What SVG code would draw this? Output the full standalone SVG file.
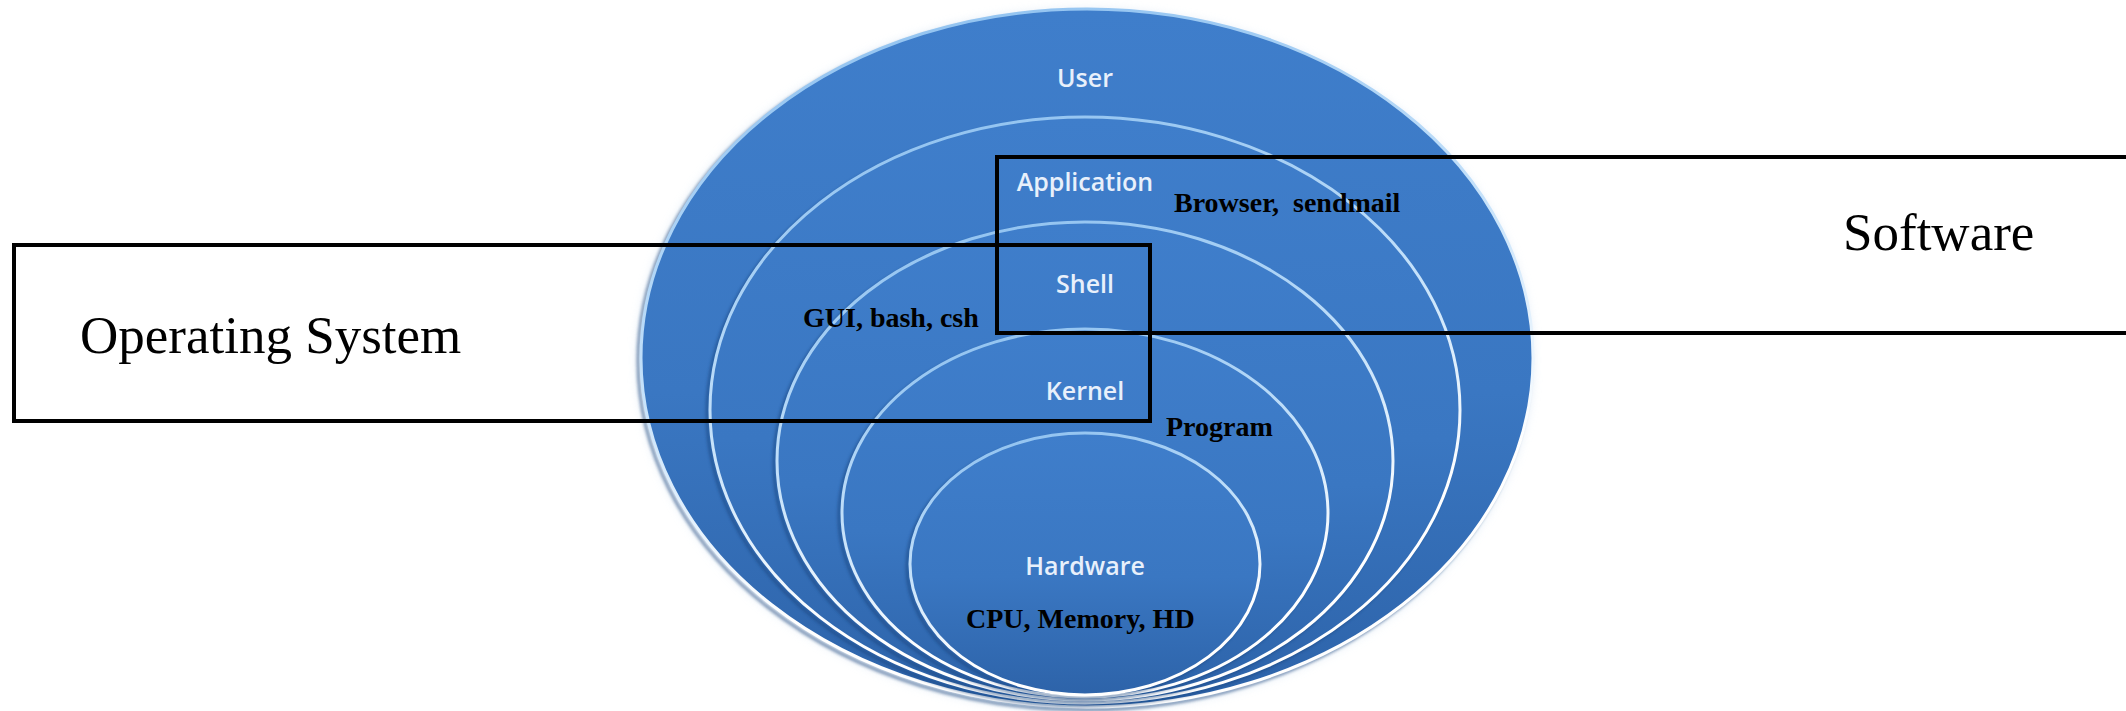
<svg xmlns="http://www.w3.org/2000/svg" width="2126" height="711" viewBox="0 0 2126 711">
  <defs>
    <linearGradient id="fillGrad" x1="0" y1="0" x2="0" y2="1">
      <stop offset="0" stop-color="#3f7ecb"/>
      <stop offset="0.55" stop-color="#3a77c2"/>
      <stop offset="1" stop-color="#2d63a9"/>
    </linearGradient>
    <linearGradient id="rimGrad" x1="0" y1="0" x2="0.3" y2="1">
      <stop offset="0" stop-color="#86bcee"/>
      <stop offset="0.5" stop-color="#c4e1fa"/>
      <stop offset="0.85" stop-color="#ffffff"/>
      <stop offset="1" stop-color="#ffffff"/>
    </linearGradient>
    <filter id="blur" x="-5%" y="-5%" width="110%" height="110%">
      <feGaussianBlur stdDeviation="1.6"/>
    </filter>
    <filter id="glow" x="-10%" y="-10%" width="120%" height="120%">
      <feGaussianBlur stdDeviation="5"/>
    </filter>
  </defs>
  <style>
    .disk { fill: url(#fillGrad); stroke: url(#rimGrad); stroke-width: 3; }
    .shadow { fill: none; stroke: #173f78; stroke-width: 3; opacity: 0.55; filter: url(#blur); }
    .layer { font-family: "Open Sans", "Noto Sans", "DejaVu Sans", sans-serif; font-weight: 600; font-size: 25px; fill: #e8f0fb; text-anchor: middle; }
    .note { font-family: "Liberation Serif", "DejaVu Serif", serif; font-weight: bold; font-size: 28px; fill: #000000; }
    .title { font-family: "Liberation Serif", "DejaVu Serif", serif; font-size: 53px; fill: #000000; }
    .box { fill: none; stroke: #000000; stroke-width: 4; }
  </style>
  <rect width="2126" height="711" fill="#ffffff"/>

  <!-- soft halo around the disk -->
  <ellipse cx="1085" cy="360" rx="448" ry="351" fill="#cfe0f2" opacity="0.6" filter="url(#glow)"/>

  <g id="ring-user">
    <ellipse class="shadow" cx="1084" cy="361" rx="446" ry="349"/>
    <ellipse class="disk" cx="1087" cy="358" rx="446" ry="349"/>
    <text class="layer" x="1085" y="87">User</text>
  </g>
  <g id="ring-application">
    <ellipse class="shadow" cx="1082" cy="413" rx="375" ry="293"/>
    <ellipse class="disk" cx="1085" cy="410" rx="375" ry="293"/>
    <text class="layer" x="1085" y="191">Application</text>
  </g>
  <g id="ring-shell">
    <ellipse class="shadow" cx="1082" cy="464" rx="308" ry="239"/>
    <ellipse class="disk" cx="1085" cy="461" rx="308" ry="239"/>
    <text class="layer" x="1085" y="293">Shell</text>
  </g>
  <g id="ring-kernel">
    <ellipse class="shadow" cx="1082" cy="516" rx="243" ry="184"/>
    <ellipse class="disk" cx="1085" cy="513" rx="243" ry="184"/>
    <text class="layer" x="1085" y="400">Kernel</text>
  </g>
  <g id="ring-hardware">
    <ellipse class="shadow" cx="1082" cy="567" rx="175" ry="131"/>
    <ellipse class="disk" cx="1085" cy="564" rx="175" ry="131"/>
    <text class="layer" x="1085" y="575">Hardware</text>
  </g>

  <g id="box-operating-system">
    <rect class="box" x="14" y="245" width="1136" height="176"/>
    <text class="title" x="80" y="353">Operating System</text>
  </g>
  <g id="box-software">
    <rect class="box" x="997" y="157" width="1140" height="176"/>
    <text class="title" x="1843" y="250">Software</text>
  </g>

  <g id="notes">
    <text class="note" x="1174" y="212" xml:space="preserve">Browser,  sendmail</text>
    <text class="note" x="803" y="327">GUI, bash, csh</text>
    <text class="note" x="1166" y="436">Program</text>
    <text class="note" x="966" y="628">CPU, Memory, HD</text>
  </g>

  <g id="connectors"/>
</svg>
